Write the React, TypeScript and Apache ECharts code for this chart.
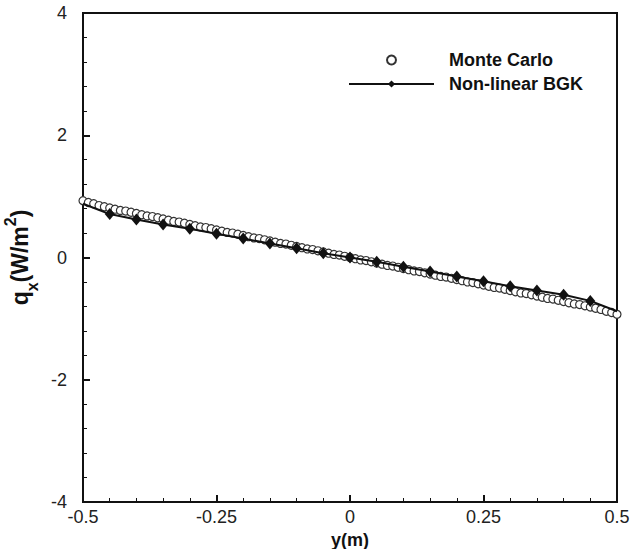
import React, { useEffect, useRef } from "react";
import * as echarts from "echarts";

const mcX = [
  -0.5, -0.49, -0.48, -0.47, -0.46, -0.45, -0.44, -0.43, -0.42, -0.41,
  -0.4, -0.39, -0.38, -0.37, -0.36, -0.35, -0.34, -0.33, -0.32, -0.31,
  -0.3, -0.29, -0.28, -0.27, -0.26, -0.25, -0.24, -0.23, -0.22, -0.21,
  -0.2, -0.19, -0.18, -0.17, -0.16, -0.15, -0.14, -0.13, -0.12, -0.11,
  -0.1, -0.09, -0.08, -0.07, -0.06, -0.05, -0.04, -0.03, -0.02, -0.01,
  0,
  0.01, 0.02, 0.03, 0.04, 0.05, 0.06, 0.07, 0.08, 0.09, 0.1,
  0.11, 0.12, 0.13, 0.14, 0.15, 0.16, 0.17, 0.18, 0.19, 0.2,
  0.21, 0.22, 0.23, 0.24, 0.25, 0.26, 0.27, 0.28, 0.29, 0.3,
  0.31, 0.32, 0.33, 0.34, 0.35, 0.36, 0.37, 0.38, 0.39, 0.4,
  0.41, 0.42, 0.43, 0.44, 0.45, 0.46, 0.47, 0.48, 0.49, 0.5,
];
const mcY = [
  0.93, 0.9, 0.88, 0.85, 0.83, 0.81, 0.79, 0.77, 0.76, 0.74,
  0.72, 0.7, 0.68, 0.67, 0.65, 0.63, 0.61, 0.59, 0.58, 0.56,
  0.54, 0.52, 0.5, 0.49, 0.47, 0.45, 0.43, 0.41, 0.4, 0.38,
  0.36, 0.34, 0.32, 0.31, 0.29, 0.27, 0.25, 0.23, 0.22, 0.2,
  0.18, 0.16, 0.14, 0.13, 0.11, 0.09, 0.07, 0.05, 0.04, 0.02,
  0.0,
  -0.02, -0.04, -0.05, -0.07, -0.09, -0.11, -0.13, -0.14, -0.16, -0.18,
  -0.2, -0.22, -0.23, -0.25, -0.27, -0.29, -0.31, -0.32, -0.34, -0.36,
  -0.38, -0.4, -0.41, -0.43, -0.45, -0.47, -0.49, -0.5, -0.52, -0.54,
  -0.56, -0.58, -0.59, -0.61, -0.63, -0.65, -0.67, -0.68, -0.7, -0.72,
  -0.74, -0.76, -0.77, -0.79, -0.81, -0.83, -0.85, -0.88, -0.9, -0.93,
];

const bgkX = [
  -0.5, -0.45, -0.4, -0.35, -0.3, -0.25, -0.2, -0.15, -0.1, -0.05, 0,
  0.05, 0.1, 0.15, 0.2, 0.25, 0.3, 0.35, 0.4, 0.45, 0.5,
];
const bgkY = [
  0.88, 0.71, 0.62, 0.54, 0.47, 0.39, 0.31, 0.23, 0.15, 0.07, 0.0,
  -0.07, -0.15, -0.23, -0.31, -0.39, -0.47, -0.54, -0.61, -0.71, -0.88,
];

const xTicks = { min: -0.5, max: 0.5, interval: 0.25 };
const yTicks = { min: -4, max: 4, interval: 2 };
const seriesNames = ["Monte Carlo", "Non-linear BGK"];

const FONT = "'Liberation Sans', Arial, sans-serif";

export default function App() {
  const ref = useRef<HTMLDivElement>(null);
  useEffect(() => {
    if (!ref.current) return;
    const chart = echarts.init(ref.current, undefined, { renderer: "svg" });
    const axisCommon = {
      axisLine: { show: true, onZero: false, lineStyle: { color: "#111", width: 2 } },
      axisTick: { show: true, inside: true, length: 7, lineStyle: { color: "#111", width: 2 } },
      minorTick: { show: true, splitNumber: 5, length: 4, lineStyle: { color: "#111", width: 1 } },
      splitLine: { show: false },
    };
    chart.setOption({
      animation: false,
      backgroundColor: "#fff",
      grid: {
        left: 83,
        right: 15,
        top: 13,
        bottom: 47,
        show: true,
        borderColor: "#111",
        borderWidth: 2,
        backgroundColor: "transparent",
        containLabel: false,
        outerBoundsMode: "none",
      },
      legend: {
        orient: "vertical",
        left: 343,
        top: 46,
        itemWidth: 85,
        itemHeight: 9,
        itemGap: 6,
        data: seriesNames,
        textStyle: {
          fontFamily: FONT,
          fontSize: 18,
          fontWeight: "bold",
          color: "#111",
          padding: [0, 0, 0, 10],
        },
      },
      xAxis: {
        type: "value",
        ...xTicks,
        ...axisCommon,
        name: "y(m)",
        nameLocation: "middle",
        nameGap: 25,
        nameTextStyle: { fontFamily: FONT, fontSize: 18, fontWeight: "bold", color: "#111" },
        axisLabel: { fontFamily: FONT, fontSize: 18, color: "#222", margin: 6 },
      },
      yAxis: {
        type: "value",
        ...yTicks,
        ...axisCommon,
        name: "{a|q}{s|x}{a|(W/m}{p|2}{a|)}",
        nameLocation: "middle",
        nameRotate: 90,
        nameGap: 42,
        nameTextStyle: {
          fontFamily: FONT,
          fontWeight: "bold",
          color: "#111",
          rich: {
            a: { fontFamily: FONT, fontSize: 23, fontWeight: "bold", color: "#111", lineHeight: 28 },
            s: { fontFamily: FONT, fontSize: 16, fontWeight: "bold", color: "#111", verticalAlign: "bottom", lineHeight: 28, padding: [0, 0, -6, 0] },
            p: { fontFamily: FONT, fontSize: 16, fontWeight: "bold", color: "#111", verticalAlign: "top", lineHeight: 28, padding: [-4, 0, 0, 0] },
          },
        },
        axisLabel: { fontFamily: FONT, fontSize: 18, color: "#222", margin: 16 },
      },
      series: [
        {
          name: seriesNames[0],
          type: "scatter",
          data: mcX.map((x, i) => [x, mcY[i]]),
          symbol: "circle",
          symbolSize: 8,
          itemStyle: { color: "#fff", borderColor: "#333", borderWidth: 1.2, opacity: 1 },
          z: 2,
        },
        {
          name: seriesNames[1],
          type: "line",
          data: bgkX.map((x, i) => ({
            value: [x, bgkY[i]],
            symbol: i === 0 || i === bgkX.length - 1 ? "none" : "diamond",
          })),
          symbol: "diamond",
          symbolSize: [10, 12],
          showSymbol: true,
          lineStyle: { color: "#111", width: 2 },
          itemStyle: { color: "#111" },
          z: 3,
        },
      ],
    });
    return () => chart.dispose();
  }, []);
  return (
    <div
      ref={ref}
      style={{ position: "fixed", left: 0, top: 0, width: 632, height: 549 }}
    />
  );
}
